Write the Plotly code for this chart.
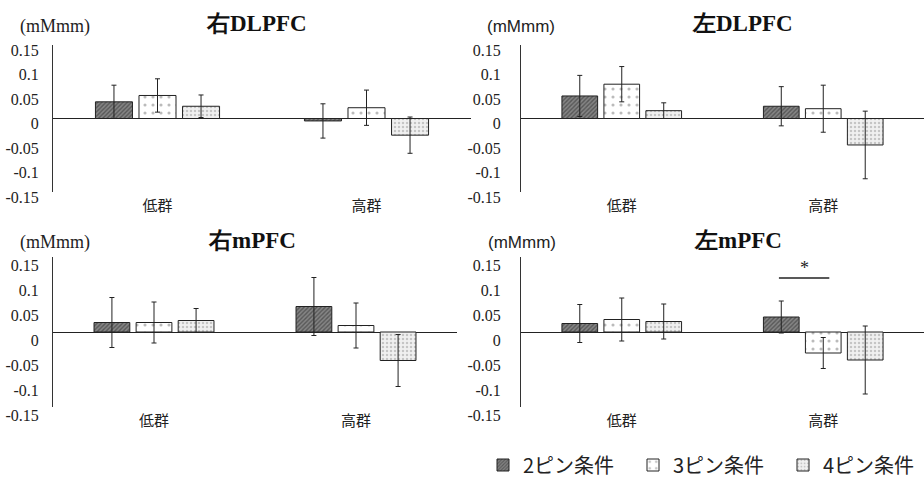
import plotly.graph_objects as go

categories = ["低群", "高群"]
series_names = ["2ピン条件", "3ピン条件", "4ピン条件"]
panel_titles = ["右DLPFC", "左DLPFC", "右mPFC", "左mPFC"]
unit_label = "(mMmm)"
y_tick_vals = [-0.15, -0.1, -0.05, 0, 0.05, 0.1, 0.15]
y_tick_text = ["-0.15", "-0.1", "-0.05", "0", "0.05", "0.1", "0.15"]

# means per series [2pin, 3pin, 4pin], each [低群, 高群]
means_r_dlpfc = [[0.034, -0.005], [0.047, 0.022], [0.025, -0.034]]
errs_r_dlpfc = [[0.034, 0.035], [0.034, 0.036], [0.023, 0.037]]
means_l_dlpfc = [[0.046, 0.025], [0.070, 0.020], [0.016, -0.054]]
errs_l_dlpfc = [[0.042, 0.040], [0.036, 0.048], [0.016, 0.069]]
means_r_mpfc = [[0.019, 0.051], [0.019, 0.013], [0.023, -0.057]]
errs_r_mpfc = [[0.050, 0.058], [0.041, 0.045], [0.024, 0.052]]
means_l_mpfc = [[0.017, 0.030], [0.025, -0.042], [0.021, -0.056]]
errs_l_mpfc = [[0.038, 0.032], [0.043, 0.031], [0.035, 0.068]]

panels = [
    (means_r_dlpfc, errs_r_dlpfc),
    (means_l_dlpfc, errs_l_dlpfc),
    (means_r_mpfc, errs_r_mpfc),
    (means_l_mpfc, errs_l_mpfc),
]

W, H = 924, 478
def px(x):
    return x / W
def py(y):
    return 1 - y / H

SERIF = "'Liberation Serif', 'Times New Roman', serif"
SANS = "'Liberation Sans', Arial, sans-serif"
CJK = "'Noto Sans CJK JP', sans-serif"

# (x0, x1, ytop, ybottom) in pixels
domains = [
    (53, 471, 45, 192),
    (521, 924, 45, 192),
    (53, 457, 257, 407),
    (521, 924, 257, 407),
]
label_shift = [5, 5, 8, 8]
label_standoff = [10, 16, 10, 16]

patterns = [
    dict(color="#808080", pattern=dict(shape="/", fgcolor="#2a2a2a", bgcolor="#858585", size=3, solidity=0.45)),
    dict(color="white", pattern=dict(shape=".", fgcolor="#777777", bgcolor="white", size=8, solidity=0.12)),
    dict(color="#eeeeee", pattern=dict(shape=".", fgcolor="#9a9a9a", bgcolor="#f0f0f0", size=4, solidity=0.3)),
]

fig = go.Figure()
for p, (means, errs) in enumerate(panels):
    suffix = "" if p == 0 else str(p + 1)
    for s in range(3):
        fig.add_trace(go.Bar(
            x=categories, y=means[s], name=series_names[s],
            xaxis="x" + suffix, yaxis="y" + suffix,
            marker=dict(color=patterns[s]["color"], pattern=patterns[s]["pattern"],
                        line=dict(color="#222222", width=1)),
            error_y=dict(type="data", array=errs[s], visible=True, color="#222222",
                         thickness=1, width=2.5),
            showlegend=(p == 0), legendgroup=series_names[s],
        ))

layout = dict(
    width=W, height=H, margin=dict(l=0, r=0, t=0, b=0, autoexpand=False),
    paper_bgcolor="white", plot_bgcolor="white",
    barmode="group", bargap=0.375, bargroupgap=0.15,
    showlegend=True,
    legend=dict(orientation="h", x=px(483), y=py(465), xanchor="left", yanchor="middle",
                font=dict(family=CJK, size=20, color="#222222"),
                itemwidth=30, entrywidth=105, entrywidthmode="pixels",
                tracegroupgap=0, bgcolor="rgba(0,0,0,0)", borderwidth=0),
)
annotations = []
shapes = []
for p in range(4):
    suffix = "" if p == 0 else str(p + 1)
    x0, x1, yt, yb = domains[p]
    layout["xaxis" + suffix] = dict(
        domain=[px(x0), px(x1)], anchor="y" + suffix, type="category",
        range=[-0.5, 1.5], showline=False, showgrid=False, zeroline=False, ticks="",
        tickfont=dict(family=CJK, size=15, color="#222222"),
        ticklabelstandoff=3, fixedrange=True,
    )
    layout["yaxis" + suffix] = dict(
        domain=[py(yb), py(yt)], anchor="x" + suffix, range=[-0.15, 0.15],
        tickvals=y_tick_vals, ticktext=y_tick_text, ticks="",
        showline=True, linecolor="#333333", linewidth=1,
        showgrid=False, zeroline=True, zerolinecolor="#222222", zerolinewidth=1,
        tickfont=dict(family=SERIF, size=16, color="#222222"),
        ticklabelstandoff=label_standoff[p], ticklabelshift=label_shift[p], fixedrange=True,
    )

title_pos = [(256, 23), (742, 23), (252, 240), (738, 240)]
unit_pos = [(55, 27), (521, 27), (55, 242), (522, 242)]
unit_fonts = [SERIF, SANS, SERIF, SANS]
unit_sizes = [18, 17, 18, 17]
for p in range(4):
    tx, ty = title_pos[p]
    annotations.append(dict(text="<b>" + panel_titles[p] + "</b>", x=px(tx), y=py(ty),
                            xref="paper", yref="paper", showarrow=False,
                            xanchor="center", yanchor="middle",
                            font=dict(family=SERIF, size=23, color="#111111")))
    ux, uy = unit_pos[p]
    annotations.append(dict(text=unit_label, x=px(ux), y=py(uy), xref="paper", yref="paper",
                            showarrow=False, xanchor="center", yanchor="middle",
                            font=dict(family=unit_fonts[p], size=unit_sizes[p], color="#222222")))

# significance marker in 左mPFC (high group, 2pin vs 3pin)
shapes.append(dict(type="line", xref="x4", yref="y4", x0=0.78, x1=1.03, y0=0.108, y1=0.108,
                   line=dict(color="#222222", width=1.5)))
annotations.append(dict(text="*", x=0.905, y=0.128, xref="x4", yref="y4", showarrow=False,
                        xanchor="center", yanchor="middle",
                        font=dict(family=SERIF, size=18, color="#222222")))

layout["annotations"] = annotations
layout["shapes"] = shapes
fig.update_layout(**layout)
fig.write_html("out.html", config={"displayModeBar": False, "staticPlot": True},
               post_script="document.body.style.margin='0';document.body.style.padding='0';")
